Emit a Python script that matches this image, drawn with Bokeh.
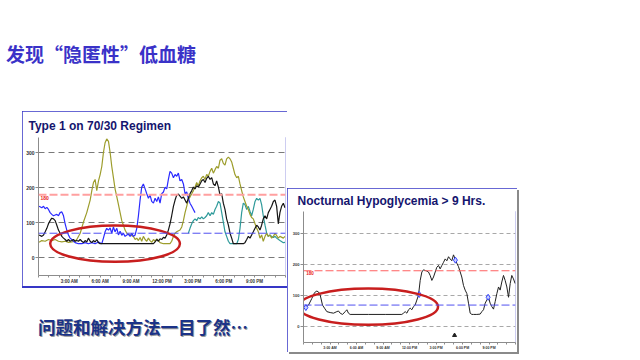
from bokeh.plotting import figure
from bokeh.layouts import row, column
from bokeh.models import Div, Spacer, FixedTicker, Span
from bokeh.embed import file_html
from bokeh.resources import INLINE
from bokeh.core.properties import value

# ---------------- texts ----------------
SLIDE_TITLE = "发现“隐匿性”低血糖"
SLIDE_NOTE = "问题和解决方法一目了然…"
CHART1_TITLE = "Type 1 on 70/30 Regimen"
CHART2_TITLE = "Nocturnal Hypoglycemia > 9 Hrs."

# ---------------- axes ----------------
hour_ticks = list(range(0, 25))
hour_labels = {3: "3:00 AM", 6: "6:00 AM", 9: "9:00 AM", 12: "12:00 PM",
               15: "3:00 PM", 18: "6:00 PM", 21: "9:00 PM"}
y_ticks = [0, 100, 200, 300]
high_target = 180
low_target = 70

# ---------------- chart 1 data (hours, mg/dL) ----------------
c1_olive_t = [0.06, 0.32, 0.65, 0.97, 1.29, 1.62, 1.94, 2.27, 2.59, 2.91, 3.24, 3.56, 3.72, 4.05, 4.37, 4.69,
              5.02, 5.18, 5.34, 5.50, 5.66, 5.83, 5.99, 6.15, 6.31, 6.47, 6.63, 6.80, 6.96, 7.12, 7.28, 7.44,
              7.61, 7.77, 7.93, 8.09, 8.25, 8.41, 8.58, 8.90, 9.22, 9.39, 9.55, 9.71, 9.87, 10.03, 10.19, 10.36,
              10.52, 10.68, 10.84, 11.00, 11.17, 11.33, 11.49, 11.65, 11.81, 12.14, 12.78, 12.94, 13.11, 13.27,
              13.43, 13.75, 13.92, 14.08, 14.24, 14.40, 14.56, 14.72, 14.89, 15.05, 15.21, 15.37, 15.53, 15.70,
              15.86, 16.02, 16.18, 16.34, 16.50, 16.67, 16.83, 16.99, 17.15, 17.31, 17.48, 17.64, 17.80, 17.96,
              18.12, 18.28, 18.45, 18.61, 18.77, 18.93, 19.09, 19.26, 19.42, 19.58, 19.74, 19.90, 20.06, 20.23,
              20.39, 20.55, 20.71, 20.87, 21.04, 21.20, 21.36, 21.52, 21.68, 21.84, 22.01, 22.17, 22.33, 22.49,
              22.65, 22.82, 22.98, 23.14, 23.30, 23.46, 23.79, 23.95]
c1_olive_v = [44, 49, 47, 52, 49, 52, 47, 45, 47, 44, 45, 47, 52, 70, 102, 129,
              165, 192, 215, 224, 192, 220, 238, 261, 301, 329, 340, 333, 301, 261, 229, 197,
              174, 152, 129, 106, 93, 79, 70, 65, 61, 52, 56, 49, 58, 47, 61, 52,
              47, 56, 49, 44, 52, 47, 54, 49, 43, 40, 40, 47, 61, 70,
              74, 79, 88, 106, 129, 147, 165, 174, 183, 192, 202, 215, 206, 220,
              229, 233, 224, 238, 233, 247, 256, 242, 252, 261, 256, 279, 283, 270,
              265, 283, 288, 283, 274, 256, 238, 229, 233, 211, 192, 174, 161, 147,
              138, 124, 115, 111, 97, 84, 74, 56, 65, 47, 61, 70, 61, 65,
              56, 61, 70, 63, 56, 61, 56, 61]

c1_blue_t = [0.06, 0.32, 0.49, 0.65, 0.81, 0.97, 1.13, 1.29, 1.46, 1.62, 1.78, 1.94, 2.10, 2.27, 2.43, 2.59,
             2.75, 2.91, 3.07, 3.24, 3.40, 3.56, 3.88, 4.21, 4.53, 4.85, 5.18, 5.50, 5.83, 6.15, 6.31, 6.47,
             6.63, 6.80, 6.96, 7.12, 7.28, 7.44, 7.61, 7.77, 7.93, 8.09, 8.25, 8.41, 8.58, 8.74, 8.90, 9.06,
             9.22, 9.39, 9.55, 9.71, 9.87, 10.03, 10.19, 10.36, 10.52, 10.68, 10.84, 11.00, 11.17, 11.33, 11.49,
             11.65, 11.81, 11.97, 12.14, 12.30, 12.46, 12.62, 12.78, 12.94, 13.11, 13.27, 13.43, 13.59, 13.75,
             13.92, 14.08, 14.24, 14.40, 14.56, 14.72, 14.89, 15.05, 15.21]
c1_blue_v = [147, 143, 147, 140, 144, 138, 129, 124, 120, 122, 124, 120, 129, 131, 120, 97,
             79, 65, 56, 52, 47, 43, 40, 40, 43, 40, 43, 40, 45, 40, 56, 74,
             84, 79, 85, 70, 88, 74, 84, 65, 76, 64, 70, 61, 65, 67, 61, 70,
             61, 65, 84, 120, 165, 202, 211, 197, 183, 170, 179, 161, 156, 170, 161,
             174, 156, 183, 188, 202, 197, 224, 247, 242, 229, 238, 233, 242, 220,
             224, 211, 183, 188, 170, 156, 147, 138, 129]

c1_black_t = [0.06, 0.32, 0.49, 0.65, 0.81, 0.97, 1.13, 1.29, 1.46, 1.62, 1.78, 1.94, 2.10, 2.27, 2.43, 2.59,
              2.75, 2.91, 3.07, 3.24, 3.40, 3.56, 3.72, 3.88, 4.05, 4.21, 4.37, 4.53, 4.69, 4.85, 5.02, 5.18,
              5.34, 5.50, 5.66, 5.83, 5.99, 11.17, 11.33, 11.49, 11.65, 11.81, 11.97, 12.14, 12.30, 12.46, 12.62,
              12.78, 12.94, 13.11, 13.27, 13.43, 13.59, 13.75, 13.92, 14.08, 14.24, 14.40, 14.56, 14.72, 14.89,
              15.05, 15.21, 15.37, 15.53, 15.70, 15.86, 16.02, 16.18, 16.34, 16.50, 16.67, 16.83, 16.99, 17.15,
              17.31, 17.48, 17.64, 17.80, 17.96, 18.12, 18.28, 18.45, 18.61, 18.77, 18.93, 19.90, 20.06, 20.23,
              20.39, 20.55, 20.71, 20.87, 21.04, 21.20, 21.36, 21.52, 21.68, 21.84, 22.01, 22.17, 22.33, 22.49,
              22.65, 22.82, 22.98, 23.14, 23.30, 23.46, 23.62, 23.79, 23.95]
c1_black_v = [65, 61, 65, 74, 84, 97, 106, 113, 111, 106, 93, 79, 70, 61, 56, 52,
              47, 52, 47, 49, 52, 47, 49, 47, 52, 47, 43, 49, 45, 56, 47, 43,
              49, 45, 52, 43, 40, 40, 45, 52, 47, 54, 52, 58, 56, 65, 79,
              97, 120, 147, 165, 179, 182, 176, 170, 174, 165, 156, 170, 183, 192,
              202, 197, 206, 202, 211, 220, 224, 215, 227, 233, 224, 229, 211, 206,
              220, 202, 179, 183, 156, 138, 111, 93, 70, 56, 40, 40, 43, 52,
              61, 56, 65, 74, 84, 93, 88, 79, 93, 111, 120, 111, 129, 138,
              147, 161, 165, 147, 97, 129, 147, 156, 143]

c1_teal_t = [14.56, 14.72, 14.89, 15.05, 15.21, 15.37, 15.53, 15.70, 15.86, 16.02, 16.18, 16.34, 16.50, 16.67,
             16.83, 16.99, 17.15, 17.31, 17.48, 17.64, 17.80, 17.96, 18.12, 18.28, 18.45, 18.61, 19.26, 19.42,
             19.58, 19.74, 19.90, 20.06, 20.23, 20.39, 20.55, 20.71, 20.87, 21.04, 21.20, 21.36, 21.52, 21.68,
             21.84, 22.01, 22.17, 22.33, 22.49, 22.65, 22.82, 22.98, 23.14, 23.46, 23.79, 23.95]
c1_teal_v = [70, 84, 97, 106, 111, 106, 115, 111, 117, 111, 115, 120, 129, 120,
             129, 124, 138, 147, 161, 156, 129, 102, 74, 61, 47, 40, 40, 52,
             84, 129, 156, 152, 138, 147, 133, 120, 138, 161, 170, 165, 170, 152,
             120, 93, 70, 61, 65, 61, 58, 61, 56, 49, 43, 44]

c1_ellipse = dict(x=[7.44], y=[40], w=[12.6], h=[104])

# ---------------- chart 2 data ----------------
c2_t = [0.11, 0.26, 0.57, 0.94, 1.25, 1.51, 1.70, 1.89, 2.15, 2.38, 2.64, 3.02, 3.40, 3.77, 3.96, 4.15,
        4.42, 4.72, 4.91, 5.09, 5.28, 7.36, 9.25, 11.13, 11.32, 11.51, 11.70, 11.89, 12.08, 12.26, 12.45,
        12.64, 12.83, 13.02, 13.21, 13.40, 13.58, 13.77, 13.96, 14.15, 14.34, 14.53, 14.72, 14.91, 15.09,
        15.28, 15.47, 15.66, 15.85, 16.04, 16.23, 16.42, 16.60, 16.79, 16.98, 17.17, 17.36, 17.55, 17.74,
        17.92, 18.11, 18.30, 18.49, 18.68, 18.87, 19.06, 19.25, 19.62, 20.00, 20.19, 20.38, 20.57, 20.75,
        20.94, 21.13, 21.32, 21.51, 21.70, 21.89, 22.08, 22.26, 22.45, 22.64, 22.83, 23.02, 23.21, 23.40,
        23.58, 23.77, 23.96]
c2_v = [60, 62, 70, 91, 110, 115, 112, 102, 70, 60, 49, 46, 44, 49, 51, 44,
        40, 49, 55, 44, 40, 40, 40, 40, 44, 49, 44, 55, 60, 55, 65,
        70, 86, 102, 149, 176, 183, 181, 179, 176, 165, 149, 160, 176, 191,
        197, 186, 197, 207, 218, 212, 225, 218, 212, 231, 218, 204, 193, 176,
        160, 133, 118, 107, 76, 44, 40, 40, 40, 41, 49, 55, 76, 86,
        95, 76, 65, 57, 81, 107, 128, 118, 144, 165, 149, 128, 95, 139,
        165, 154, 139]
c2_meter_t = [0.27, 13.1, 17.2, 20.9]
c2_meter_v = [62, 104, 214, 95]
c2_event_t = [17.1]
c2_event_v = [-27]
c2_ellipse = dict(x=[7.33], y=[65], w=[15.8], h=[116])

FONT = "Liberation Sans"
BORDER = "#3636c6"


def make_chart(title, width, height, y_range, borders, title_offset, title_standoff, tick_font,
               label_font, grid_color, grid_dash, high_width, high_color, shadow, z):
    left, right, top, bottom = borders
    p = figure(width=width, height=height, x_range=(0, 24), y_range=y_range,
               output_backend="svg", toolbar_location=None, title=title,
               min_border_left=left, min_border_right=right,
               min_border_top=top, min_border_bottom=bottom,
               background_fill_color="white", border_fill_color="white")
    p.outline_line_color = None
    p.title.text_font = FONT
    p.title.text_font_size = "12px"
    p.title.text_font_style = "bold"
    p.title.text_color = "#15156e"
    p.title.align = "left"
    p.title.offset = title_offset
    p.title.standoff = title_standoff
    style = {"outline": "2px solid " + BORDER, "outline-offset": "-2px", "z-index": str(z)}
    if shadow:
        style["box-shadow"] = "2px 2px 0px #8a8a8a"
    p.styles = style

    p.xaxis.ticker = FixedTicker(ticks=hour_ticks)
    p.xaxis.major_label_overrides = {h: hour_labels.get(h, "") for h in hour_ticks}
    p.xaxis.major_label_text_font_size = label_font
    p.xaxis.major_label_standoff = 1
    p.xaxis.major_tick_out = 2
    p.xaxis.major_tick_in = 0
    p.xaxis.minor_tick_line_color = None

    p.yaxis.ticker = FixedTicker(ticks=y_ticks)
    p.yaxis.major_label_text_font_size = tick_font
    p.yaxis.major_label_standoff = 1
    p.yaxis.major_tick_out = 3
    p.yaxis.major_tick_in = 0
    p.yaxis.minor_tick_line_color = None
    for ax in (p.xaxis, p.yaxis):
        ax.axis_line_color = "#8c8c8c"
        ax.major_tick_line_color = "#8c8c8c"
        ax.major_label_text_color = "#333333"
        ax.major_label_text_font = FONT
        ax.major_label_text_font_style = "bold"

    p.xgrid.grid_line_color = None
    p.ygrid.ticker = FixedTicker(ticks=y_ticks)
    p.ygrid.grid_line_color = grid_color
    p.ygrid.grid_line_dash = grid_dash

    p.add_layout(Span(location=high_target, dimension="width", line_color=high_color,
                      line_width=high_width, line_dash="8 3"))
    p.add_layout(Span(location=low_target, dimension="width", line_color="#5050f0",
                      line_width=1, line_dash="8 3"))
    return p


# ---------------- chart 1 ----------------
p1 = make_chart(CHART1_TITLE, 265, 175, (-51, 344), (16, 2, 23, 6), -10, 10, "5px", "4.5px",
                "#7a7a7a", "6 4", 2, "#ffa0a0", False, 1)
p1.text(x=[0.2], y=[176], text=[str(high_target)], text_font=value(FONT), text_font_size="5px",
        text_font_style="bold", text_color="#e82020", text_baseline="top")
p1.line(c1_teal_t, c1_teal_v, line_color="#2e9a9a", line_width=1.2)
p1.line(c1_olive_t, c1_olive_v, line_color="#9d9d2c", line_width=1.2)
p1.line(c1_blue_t, c1_blue_v, line_color="#2a2aff", line_width=1.2)
p1.line(c1_black_t, c1_black_v, line_color="#151515", line_width=1.2)
p1.ellipse(x=c1_ellipse["x"], y=c1_ellipse["y"], width=c1_ellipse["w"], height=c1_ellipse["h"],
           fill_alpha=0, line_color="#c81e1e", line_width=2.5)

# ---------------- chart 2 ----------------
p2 = make_chart(CHART2_TITLE, 230, 164, (-50, 370), (16, 2, 22, 9), -6, 7, "4px", "3.5px",
                "#a8a8a8", "4 3", 1, "#ff6060", True, 2)
p2.text(x=[0.3], y=[172], text=[str(high_target)], text_font=value(FONT), text_font_size="4.5px",
        text_font_style="bold", text_color="#e82020", text_baseline="middle")
p2.line(c2_t, c2_v, line_color="#202020", line_width=1)
p2.scatter(c2_meter_t, c2_meter_v, marker="diamond", size=6, line_color="#3040ff",
           fill_color="#c8d0ff", line_width=1)
p2.scatter(c2_event_t, c2_event_v, marker="triangle", size=4, color="#202020")
p2.ellipse(x=c2_ellipse["x"], y=c2_ellipse["y"], width=c2_ellipse["w"], height=c2_ellipse["h"],
           fill_alpha=0, line_color="#c81e1e", line_width=2.5)

# ---------------- slide texts ----------------
title_div = Div(text=(
    "<div style=\"font-family:'Noto Sans CJK SC';font-weight:bold;font-size:19px;"
    "color:#3a32c8;line-height:19px;padding:44px 0 0 6px;white-space:nowrap;\">"
    + SLIDE_TITLE + "</div>"), width=287, height=111, margin=0)
note_div = Div(text=(
    "<div style=\"font-family:'Noto Sans CJK SC';font-weight:bold;font-size:17.5px;"
    "color:#1b3388;line-height:18px;padding:30px 0 0 38px;white-space:nowrap;"
    "text-shadow:1px 1px 0px #9a9a9a;\">"
    + SLIDE_NOTE + "</div>"), width=287, height=70, margin=0)
# bottom edge of the first chart's frame box
bottom_edge = Div(text="", width=265, height=2, margin=0, styles={"background-color": BORDER})

left_col = column(
    title_div,
    row(Spacer(width=22, height=175, margin=0), p1),
    row(Spacer(width=22, height=2, margin=0), bottom_edge),
    note_div,
)
right_col = column(Spacer(width=230, height=188, margin=0), p2)
layout = row(left_col, right_col)

open("out.html", "w").write(file_html(layout, INLINE))
